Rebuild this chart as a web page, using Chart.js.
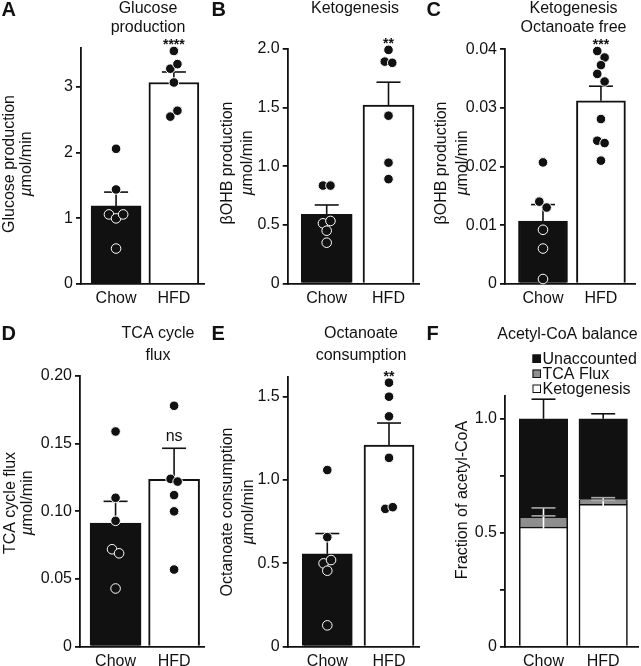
<!DOCTYPE html>
<html lang="en">
<head>
<meta charset="UTF-8">
<title>Hepatic flux, Chow vs HFD</title>
<script src="https://cdn.jsdelivr.net/npm/chart.js"></script>
<style>
    body { margin: 0; background: #fff; }
    #fig { position: relative; width: 641px; height: 666px; overflow: hidden; }
    .panel { position: absolute; }
</style>
</head>
<body>
<div id="fig">
    <div class="panel" style="left:0;top:0;width:210px;height:320px"><canvas id="pA"></canvas></div>
    <div class="panel" style="left:210px;top:0;width:215px;height:320px"><canvas id="pB"></canvas></div>
    <div class="panel" style="left:425px;top:0;width:216px;height:320px"><canvas id="pC"></canvas></div>
    <div class="panel" style="left:0;top:320px;width:210px;height:346px"><canvas id="pD"></canvas></div>
    <div class="panel" style="left:210px;top:320px;width:215px;height:346px"><canvas id="pE"></canvas></div>
    <div class="panel" style="left:425px;top:320px;width:216px;height:346px"><canvas id="pF"></canvas></div>
</div>
<script>
    const groups = ['Chow', 'HFD'];

    // A - glucose production (umol/min)
    const glucoseChow = [2.06, 1.44, 1.06, 1.00, 1.06, 0.54];
    const glucoseHfd = [3.55, 3.28, 3.35, 3.07, 2.55, 2.64];
    const glucoseMean = [1.19, 3.07];
    const glucoseSem = [0.21, 0.16];
    const glucoseTicks = [0, 1, 2, 3];
    const glucoseTickLabels = ['0', '1', '2', '3'];

    // B - ketogenesis
    const ketoChow = [0.835, 0.835, 0.514, 0.534, 0.451, 0.349];
    const ketoHfd = [1.99, 1.89, 1.88, 1.43, 1.03, 0.89];
    const ketoMean = [0.59, 1.52];
    const ketoSem = [0.08, 0.195];
    const ketoTicks = [0, 0.5, 1.0, 1.5, 2.0];
    const ketoTickLabels = ['0', '0.5', '1.0', '1.5', '2.0'];

    // C - ketogenesis, octanoate free
    const ketoFreeChow = [0.0207, 0.0140, 0.0130, 0.0092, 0.0060, 0.0008];
    const ketoFreeHfd = [0.0397, 0.0386, 0.0373, 0.0358, 0.0345, 0.0281, 0.0244, 0.0240, 0.0210];
    const ketoFreeMean = [0.0107, 0.0312];
    const ketoFreeSem = [0.0028, 0.0025];
    const ketoFreeTicks = [0, 0.01, 0.02, 0.03, 0.04];
    const ketoFreeTickLabels = ['0', '0.01', '0.02', '0.03', '0.04'];

    // D - TCA cycle flux
    const tcaChow = [0.159, 0.110, 0.093, 0.072, 0.069, 0.043];
    const tcaHfd = [0.178, 0.124, 0.122, 0.112, 0.100, 0.057];
    const tcaMean = [0.0914, 0.1236];
    const tcaSem = [0.016, 0.023];
    const tcaTicks = [0, 0.05, 0.10, 0.15, 0.20];
    const tcaTickLabels = ['0', '0.05', '0.10', '0.15', '0.20'];

    // E - octanoate consumption
    const octChow = [1.06, 0.657, 0.50, 0.52, 0.456, 0.128];
    const octHfd = [1.584, 1.50, 1.382, 1.133, 0.827, 0.837];
    const octMean = [0.557, 1.209];
    const octSem = [0.122, 0.133];
    const octTicks = [0, 0.5, 1.0, 1.5];
    const octTickLabels = ['0', '0.5', '1.0', '1.5'];

    // F - acetyl-CoA balance (fractions)
    const balanceKeto = [0.525, 0.625];
    const balanceTca = [0.04, 0.02];
    const balanceUnacc = [0.435, 0.355];
    const balanceKetoSem = [0.084, 0.017];
    const balanceTcaSem = [0.009, 0.009];
    const balanceUnaccSem = [0.086, 0.022];
    const balanceTicks = [0, 0.25, 0.5, 0.75, 1.0];
    const balanceTickLabels = ['0', '', '0.5', '', '1.0'];

    const sigLabels = ['****', '**', '***', 'ns', '**'];

    const FONT = "'Liberation Sans', Arial, Helvetica, sans-serif";
    const INK = '#111';

    // spread points that sit at about the same height side by side
    function swarm(values, xc, pxPerY, pxPerX) {
        const order = values.map((v, i) => i).sort((a, b) => values[b] - values[a]);
        const rows = [];
        order.forEach(i => {
            const row = rows[rows.length - 1];
            if (row && (values[row[0]] - values[i]) * pxPerY < 8) row.push(i);
            else rows.push([i]);
        });
        const pts = [];
        rows.forEach(row => {
            row.sort((a, b) => a - b);
            row.forEach((i, k) => {
                const dx = (k - (row.length - 1) / 2) * 7.5;
                pts.push({ x: xc + dx / pxPerX, y: values[i] });
            });
        });
        return pts;
    }

    function drawLine(ctx, text, x, y, size) {
        // unit lines start with an italic mu
        if (text[0] === 'µ') {
            ctx.font = 'italic ' + size + 'px ' + FONT;
            const w1 = ctx.measureText('µ').width;
            ctx.font = size + 'px ' + FONT;
            const w2 = ctx.measureText(text.slice(1)).width;
            const x0 = x - (w1 + w2) / 2;
            ctx.textAlign = 'left';
            ctx.font = 'italic ' + size + 'px ' + FONT;
            ctx.fillText('µ', x0, y);
            ctx.font = size + 'px ' + FONT;
            ctx.fillText(text.slice(1), x0 + w1, y);
            ctx.textAlign = 'center';
        } else {
            ctx.font = size + 'px ' + FONT;
            ctx.textAlign = 'center';
            ctx.fillText(text, x, y);
        }
    }

    const errorBars = {
        id: 'errorBars',
        afterDatasetDraw(chart, args, o) {
            if (!o.items || args.index !== o.after) return;
            const { x, y } = chart.scales;
            const ctx = chart.ctx;
            ctx.save();
            ctx.lineWidth = 1.6;
            o.items.forEach(e => {
                const px = x.getPixelForValue(e.i);
                const y0 = y.getPixelForValue(e.from);
                const y1 = y.getPixelForValue(e.to);
                ctx.strokeStyle = e.stem || INK;
                ctx.beginPath();
                ctx.moveTo(px, y0);
                ctx.lineTo(px, y1);
                ctx.stroke();
                ctx.strokeStyle = e.cap || INK;
                ctx.beginPath();
                ctx.moveTo(px - 12, y1);
                ctx.lineTo(px + 12, y1);
                ctx.stroke();
            });
            ctx.restore();
        }
    };

    const figureText = {
        id: 'figureText',
        afterDraw(chart, args, o) {
            const ctx = chart.ctx;
            const { x, y } = chart.scales;
            ctx.save();
            ctx.fillStyle = INK;
            ctx.textBaseline = 'alphabetic';
            ctx.textAlign = 'left';
            ctx.font = 'bold 20px ' + FONT;
            ctx.fillText(o.letter, 1.5, o.letterY);

            o.title.forEach((t, i) => drawLine(ctx, t, o.titleX, o.titleY[i], 16));

            o.yTitle.forEach((t, i) => {
                ctx.save();
                ctx.translate(o.yTitleX[i], o.yTitleY);
                ctx.rotate(-Math.PI / 2);
                ctx.textBaseline = 'middle';
                drawLine(ctx, t, 0, 0, 16);
                ctx.restore();
            });

            if (o.sig) {
                const px = x.getPixelForValue(1);
                ctx.textAlign = 'center';
                if (o.sig === 'ns') {
                    ctx.font = '16px ' + FONT;
                    const cy = y.getPixelForValue(o.sigTop) - 11;
                    ctx.fillText(o.sig, px, cy + 4);
                } else {
                    ctx.font = 'bold 14px ' + FONT;
                    const cy = y.getPixelForValue(o.sigTop) - 10;
                    ctx.fillText(o.sig, px, cy + 8);
                }
            }

            if (o.legend) {
                const sets = chart.data.datasets.slice().reverse();
                sets.forEach((d, i) => {
                    const base = o.legend.y + i * 15;
                    ctx.fillStyle = d.backgroundColor;
                    ctx.fillRect(o.legend.x, base - 9, 8.5, 8.5);
                    ctx.strokeStyle = INK;
                    ctx.lineWidth = 1;
                    ctx.strokeRect(o.legend.x + 0.5, base - 8.5, 7.5, 7.5);
                    ctx.fillStyle = INK;
                    ctx.textAlign = 'left';
                    ctx.font = '16px ' + FONT;
                    ctx.fillText(d.label, o.legend.x + 10, base);
                });
            }
            ctx.restore();
        }
    };

    function baseOptions(p) {
        const [pl, pt, pr, pb] = p.plot;
        const sp = p.hfdX - p.chowX;
        const tickFont = { family: FONT, size: 16 };
        return {
            responsive: true,
            maintainAspectRatio: false,
            animation: false,
            layout: { padding: { left: 0, top: pt, right: p.W - pr, bottom: 0 } },
            plugins: {
                legend: { display: false },
                tooltip: { enabled: false },
                figureText: p.text,
                errorBars: p.errors
            },
            scales: {
                x: {
                    type: 'linear',
                    offset: false,
                    stacked: !!p.stacked,
                    min: (pl - p.chowX) / sp,
                    max: (pr - p.chowX) / sp,
                    grid: { display: false, drawTicks: false, offset: false },
                    border: { display: true, color: INK, width: 1.8 },
                    ticks: {
                        font: tickFont, color: INK, padding: 5, autoSkip: false, maxRotation: 0,
                        callback: v => groups[Math.round(v)]
                    },
                    afterBuildTicks: s => { s.ticks = groups.map((g, i) => ({ value: i })); },
                    afterFit: s => { s.height = p.H - pb; }
                },
                y: {
                    min: 0,
                    max: p.yMax,
                    stacked: !!p.stacked,
                    grid: { drawOnChartArea: false, drawTicks: true, tickLength: 5, color: INK, lineWidth: 1.8 },
                    border: { display: true, color: INK, width: 1.8 },
                    ticks: {
                        font: tickFont, color: INK, padding: 3, autoSkip: false,
                        callback: (v, i) => p.tickLabels[i]
                    },
                    afterBuildTicks: s => { s.ticks = p.ticks.map(v => ({ value: v })); },
                    afterFit: s => { s.width = pl; }
                }
            }
        };
    }

    function dotPanel(id, p) {
        const [pl, pt, pr, pb] = p.plot;
        const pxPerY = (pb - pt) / p.yMax;
        const sp = p.hfdX - p.chowX;
        const dots = {
            type: 'scatter', pointRadius: 4.8, pointHoverRadius: 4.8, clip: false,
            pointBackgroundColor: INK, pointBorderColor: '#fff', pointBorderWidth: 1, order: 0
        };
        p.errors = {
            after: 2,
            items: p.mean.map((m, i) => ({ i: i, from: m, to: m + p.sem[i] }))
        };
        p.text.sigTop = p.text.sig === 'ns' ? p.mean[1] + p.sem[1] : Math.max(...p.hfd);
        return new Chart(document.getElementById(id), {
            type: 'bar',
            data: {
                datasets: [
                    { ...dots, label: groups[0], data: swarm(p.chow, 0, pxPerY, sp) },
                    { ...dots, label: groups[1], data: swarm(p.hfd, 1, pxPerY, sp) },
                    {
                        type: 'bar', label: 'Mean', order: 1,
                        data: p.mean.map((m, i) => ({ x: i, y: m })),
                        backgroundColor: [INK, '#fff'], borderColor: INK, borderWidth: 2,
                        barThickness: p.barW
                    }
                ]
            },
            options: baseOptions(p),
            plugins: [errorBars, figureText]
        });
    }

    dotPanel('pA', {
        chow: glucoseChow, hfd: glucoseHfd, mean: glucoseMean, sem: glucoseSem,
        ticks: glucoseTicks, tickLabels: glucoseTickLabels, yMax: 3.6,
        W: 210, H: 320, plot: [81, 47.7, 211, 284], chowX: 118, hfdX: 179, barW: 50,
        text: {
            letter: 'A', letterY: 16, title: ['Glucose', 'production'], titleX: 148, titleY: [12.5, 31.5],
            yTitle: ['Glucose production', 'µmol/min'], yTitleX: [10, 27], yTitleY: 164, sig: sigLabels[0]
        }
    });

    dotPanel('pB', {
        chow: ketoChow, hfd: ketoHfd, mean: ketoMean, sem: ketoSem,
        ticks: ketoTicks, tickLabels: ketoTickLabels, yMax: 2.0,
        W: 215, H: 320, plot: [77.7, 48.7, 209, 283.7], chowX: 116.7, hfdX: 178.5, barW: 51,
        text: {
            letter: 'B', letterY: 16, title: ['Ketogenesis'], titleX: 145, titleY: [12.5],
            yTitle: ['βOHB production', 'µmol/min'], yTitleX: [17.5, 38], yTitleY: 163, sig: sigLabels[1]
        }
    });

    dotPanel('pC', {
        chow: ketoFreeChow, hfd: ketoFreeHfd, mean: ketoFreeMean, sem: ketoFreeSem,
        ticks: ketoFreeTicks, tickLabels: ketoFreeTickLabels, yMax: 0.04,
        W: 216, H: 320, plot: [80, 49.3, 213, 283.7], chowX: 118.8, hfdX: 178, barW: 49,
        text: {
            letter: 'C', letterY: 16, title: ['Ketogenesis', 'Octanoate free'], titleX: 148.5, titleY: [12.5, 31.5],
            yTitle: ['βOHB production', 'µmol/min'], yTitleX: [16.5, 38], yTitleY: 163, sig: sigLabels[2]
        }
    });

    dotPanel('pD', {
        chow: tcaChow, hfd: tcaHfd, mean: tcaMean, sem: tcaSem,
        ticks: tcaTicks, tickLabels: tcaTickLabels, yMax: 0.2,
        W: 210, H: 346, plot: [80, 56, 212, 326.7], chowX: 117.8, hfdX: 180, barW: 51,
        text: {
            letter: 'D', letterY: 20, title: ['TCA cycle', 'flux'], titleX: 158, titleY: [17.5, 39.5],
            yTitle: ['TCA cycle flux', 'µmol/min'], yTitleX: [10.5, 27.5], yTitleY: 183, sig: sigLabels[3]
        }
    });

    dotPanel('pE', {
        chow: octChow, hfd: octHfd, mean: octMean, sem: octSem,
        ticks: octTicks, tickLabels: octTickLabels, yMax: 1.62,
        W: 215, H: 346, plot: [77.7, 56.7, 209, 326.7], chowX: 117.3, hfdX: 179, barW: 50,
        text: {
            letter: 'E', letterY: 20, title: ['Octanoate', 'consumption'], titleX: 151, titleY: [17.5, 39.5],
            yTitle: ['Octanoate consumption', 'µmol/min'], yTitleX: [17.5, 38.5], yTitleY: 192, sig: sigLabels[4]
        }
    });

    // F - stacked fractions
    (function () {
        const p = {
            stacked: true, ticks: balanceTicks, tickLabels: balanceTickLabels, yMax: 1.1,
            W: 216, H: 346, plot: [80, 76, 213, 326.7], chowX: 118.5, hfdX: 178.2,
            text: {
                letter: 'F', letterY: 20, title: ['Acetyl-CoA balance'], titleX: 142.5, titleY: [18.5],
                yTitle: ['Fraction of acetyl-CoA'], yTitleX: [38], yTitleY: 180,
                legend: { x: 107.5, y: 43.5 }
            }
        };
        const items = [];
        groups.forEach((g, i) => {
            const k = balanceKeto[i];
            const t = k + balanceTca[i];
            const total = t + balanceUnacc[i];
            items.push({ i: i, from: k - 0.02, to: k + balanceKetoSem[i], stem: '#fff', cap: '#aaa' });
            items.push({ i: i, from: t, to: t + balanceTcaSem[i], stem: '#fff', cap: '#aaa' });
            items.push({ i: i, from: total, to: total + balanceUnaccSem[i] });
        });
        p.errors = { after: 0, items: items };
        const seg = (label, values, fill, edge) => ({
            label: label,
            data: values.map((v, i) => ({ x: i, y: v })),
            backgroundColor: fill, borderColor: INK, borderWidth: edge,
            borderSkipped: false, barThickness: 48.5
        });
        new Chart(document.getElementById('pF'), {
            type: 'bar',
            data: {
                datasets: [
                    seg('Ketogenesis', balanceKeto, '#fff', { left: 1.6, right: 1.6, top: 1.6, bottom: 0 }),
                    seg('TCA Flux', balanceTca, '#8e8e8e', { left: 1.6, right: 1.6, top: 0, bottom: 0 }),
                    seg('Unaccounted', balanceUnacc, INK, { left: 1.6, right: 1.6, top: 1.6, bottom: 0 })
                ]
            },
            options: baseOptions(p),
            plugins: [errorBars, figureText]
        });
    })();
</script>
</body>
</html>
